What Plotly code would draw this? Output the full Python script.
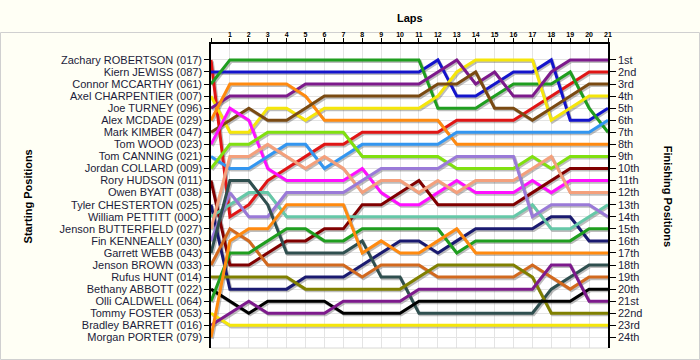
import plotly.graph_objects as go

laps = list(range(22))

drivers = [
    "Zachary ROBERTSON (017)", "Kiern JEWISS (087)", "Connor MCCARTHY (061)",
    "Axel CHARPENTIER (007)", "Joe TURNEY (096)", "Alex MCDADE (029)",
    "Mark KIMBER (047)", "Tom WOOD (023)", "Tom CANNING (021)",
    "Jordan COLLARD (009)", "Rory HUDSON (011)", "Owen BYATT (038)",
    "Tyler CHESTERTON (025)", "William PETTITT (00O)", "Jenson BUTTERFIELD (027)",
    "Fin KENNEALLY (030)", "Garrett WEBB (043)", "Jenson BROWN (033)",
    "Rufus HUNT (014)", "Bethany ABBOTT (022)", "Olli CALDWELL (064)",
    "Tommy FOSTER (053)", "Bradley BARRETT (016)", "Morgan PORTER (079)",
]

finish_labels = ["1st", "2nd", "3rd"] + [f"{i}th" for i in range(4, 21)] + ["21st", "22nd", "23rd", "24th"]

# positions lap 0..21
pos_robertson = [1, 14, 13, 11, 10, 9, 8, 8, 7, 7, 7, 7, 7, 6, 6, 6, 6, 5, 4, 3, 2, 2]
pos_jewiss = [2, 2, 2, 2, 2, 2, 2, 2, 2, 2, 2, 2, 1, 4, 4, 3, 2, 2, 1, 6, 6, 5]
pos_mccarthy = [3, 1, 1, 1, 1, 1, 1, 1, 1, 1, 1, 1, 5, 5, 5, 4, 3, 3, 3, 2, 5, 7]
pos_charpentier = [4, 7, 7, 5, 5, 6, 5, 5, 5, 5, 5, 5, 4, 2, 1, 1, 1, 1, 6, 5, 4, 4]
pos_turney = [5, 4, 4, 4, 4, 3, 3, 3, 3, 3, 3, 3, 2, 1, 3, 2, 4, 4, 2, 1, 1, 1]
pos_mcdade = [6, 3, 3, 3, 3, 4, 6, 6, 6, 6, 6, 6, 6, 8, 8, 8, 8, 8, 8, 8, 8, 8]
pos_kimber = [7, 6, 5, 6, 6, 5, 4, 4, 4, 4, 4, 4, 3, 3, 2, 5, 5, 6, 5, 4, 3, 3]
pos_wood = [8, 5, 6, 10, 11, 11, 11, 11, 10, 12, 13, 13, 12, 11, 12, 12, 12, 11, 12, 11, 11, 11]
pos_canning = [9, 10, 10, 9, 8, 8, 10, 9, 8, 8, 8, 8, 8, 7, 7, 7, 7, 7, 7, 7, 7, 6]
pos_collard = [10, 8, 8, 7, 7, 7, 7, 7, 9, 9, 9, 9, 9, 10, 10, 10, 10, 9, 10, 9, 9, 9]
pos_hudson = [11, 18, 18, 17, 16, 16, 15, 15, 13, 13, 12, 11, 13, 13, 13, 13, 13, 12, 11, 10, 10, 10]
pos_byatt = [12]
pos_chesterton = [13, 20, 20, 20, 20, 19, 19, 19, 18, 17, 16, 16, 17, 16, 15, 15, 15, 15, 14, 14, 16, 16]
pos_pettitt = [14, 13, 12, 12, 14, 14, 14, 14, 14, 14, 14, 14, 14, 14, 14, 14, 14, 13, 15, 15, 14, 13]
pos_butterfield = [15, 9, 9, 8, 9, 10, 9, 10, 12, 11, 11, 12, 11, 12, 11, 11, 11, 10, 9, 12, 12, 12]
pos_kenneally = [16, 12, 14, 14, 12, 12, 12, 12, 11, 10, 10, 10, 10, 9, 9, 9, 9, 14, 13, 13, 13, 14]
pos_webb = [17, 11, 11, 13, 17, 17, 17, 17, 16, 19, 19, 22, 22, 22, 22, 22, 22, 22, 20, 19, 18, 18]
pos_brown = [18, 15, 16, 18, 18, 18, 18, 18, 19, 18, 18, 18, 19, 19, 19, 19, 19, 18, 19, 20, 19, 19]
pos_hunt = [19, 19, 19, 19, 19, 20, 20, 20, 20, 20, 20, 19, 18, 18, 18, 18, 18, 19, 22, 22, 22, 22]
pos_abbott = [20, 21, 22, 21, 21, 21, 21, 22, 22, 22, 22, 21, 21, 21, 21, 21, 21, 21, 21, 21, 20, 20]
pos_caldwell = [21, 17, 17, 16, 15, 15, 16, 16, 15, 15, 15, 15, 15, 17, 16, 16, 16, 16, 16, 16, 15, 15]
pos_foster = [22, 23, 23, 23, 23, 23, 23, 23, 23, 23, 23, 23, 23, 23, 23, 23, 23, 23, 23, 23, 23, 23]
pos_barrett = [23, 22, 21, 22, 22, 22, 22, 21, 21, 21, 21, 20, 20, 20, 20, 20, 20, 20, 18, 18, 21, 21]
pos_porter = [24, 16, 15, 15, 13, 13, 13, 13, 17, 16, 17, 17, 16, 15, 17, 17, 17, 17, 17, 17, 17, 17]

all_positions = [
    pos_robertson, pos_jewiss, pos_mccarthy, pos_charpentier, pos_turney, pos_mcdade,
    pos_kimber, pos_wood, pos_canning, pos_collard, pos_hudson, pos_byatt,
    pos_chesterton, pos_pettitt, pos_butterfield, pos_kenneally, pos_webb, pos_brown,
    pos_hunt, pos_abbott, pos_caldwell, pos_foster, pos_barrett, pos_porter,
]

colors = [
    "#e01515", "#1414cc", "#1f9e1f", "#f5e60a", "#7d1a8c", "#ff8a10",
    "#7a4a12", "#ff10ff", "#3396f0", "#80e010", "#800000", "#999999",
    "#1a1a70", "#66c8a8", "#f4a07c", "#9a7ad8", "#2f4f4f", "#d2691e",
    "#808000", "#000000", "#1f9e1f", "#f5e60a", "#7d1a8c", "#ff8a10",
]

fig = go.Figure()

# shadows
sdx, sdy = 0.07, 0.13
for p in all_positions:
    n = len(p)
    fig.add_trace(go.Scatter(
        x=[l + sdx for l in laps[:n]], y=[v + sdy for v in p], mode="lines",
        line=dict(color="rgba(90,90,90,0.4)", width=3), hoverinfo="skip", showlegend=False))

for name, p, c in zip(drivers, all_positions, colors):
    n = len(p)
    fig.add_trace(go.Scatter(
        x=laps[:n], y=p, mode="lines", name=name,
        line=dict(color=c, width=3), showlegend=False))

# invisible trace on right axis
fig.add_trace(go.Scatter(x=[0], y=[1], yaxis="y2", mode="markers",
                         marker=dict(opacity=0), showlegend=False, hoverinfo="skip"))

yr = [24.88, -0.32]
txtcol = "#1c1c3a"
fig.update_layout(
    width=700, height=360,
    margin=dict(l=211, r=92, t=44, b=12),
    paper_bgcolor="#fffff5",
    plot_bgcolor="#ffffff",
    font=dict(family="Arial, Liberation Sans, sans-serif", size=11, color=txtcol),
    xaxis=dict(
        side="top", range=[0, 21], tickmode="array", tickvals=laps,
        ticktext=[""] + [f"<b>{l}</b>" for l in laps[1:]],
        tickfont=dict(size=7, color="#000000"),
        ticks="outside", ticklen=4, tickcolor="#000000",
        ticklabelstandoff=-2,
        showline=True, linecolor="#000000", linewidth=1.5,
        showgrid=True, gridcolor="#e4e4e4", gridwidth=1, zeroline=False,
    ),
    yaxis=dict(
        range=yr, tickmode="array",
        tickvals=list(range(1, 25)), ticktext=drivers,
        ticks="outside", ticklen=5, tickcolor="#000000",
        showline=True, linecolor="#000000", linewidth=1.5,
        showgrid=True, gridcolor="#e4e4e4", gridwidth=1, zeroline=False,
        tickfont=dict(size=11, color=txtcol),
    ),
    yaxis2=dict(
        overlaying="y", side="right", range=yr, tickmode="array",
        tickvals=list(range(1, 25)), ticktext=finish_labels,
        ticks="outside", ticklen=6, tickcolor="#000000",
        showline=True, linecolor="#000000", linewidth=1.5,
        showgrid=False, zeroline=False,
        tickfont=dict(size=11, color=txtcol),
    ),
    annotations=[
        dict(text="<b>Laps</b>", x=0.5, y=1.0, xref="paper", yref="paper",
             xanchor="center", yanchor="middle",
             yshift=26, showarrow=False, font=dict(size=11, color="#000000")),
        dict(text="<b>Starting Positions</b>", x=-0.46, y=0.5, xref="paper", yref="paper",
             xanchor="center", yanchor="middle",
             textangle=-90, showarrow=False, font=dict(size=11, color="#000000")),
        dict(text="<b>Finishing Positions</b>", x=1.152, y=0.5, xref="paper", yref="paper",
             xanchor="center", yanchor="middle",
             textangle=90, showarrow=False, font=dict(size=11, color="#000000")),
    ],
    shapes=[
        dict(type="line", xref="paper", yref="paper", x0=0, x1=1, y0=0, y1=0,
             line=dict(color="#d8d8d8", width=1)),
        dict(type="rect", xref="paper", yref="paper", x0=-210.5/397, x1=488.5/397,
             y0=-11.5/304, y1=315.5/304, line=dict(color="#d0d0d0", width=1), layer="below"),
    ],
)

fig.write_html("out.html")
